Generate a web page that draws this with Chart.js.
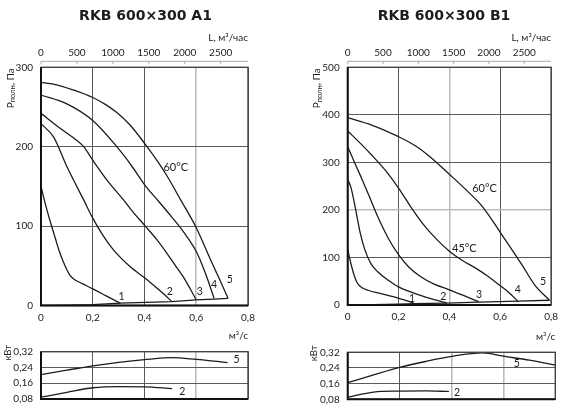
<!DOCTYPE html>
<html lang="ru">
<head>
<meta charset="UTF-8">
<title>RKB 600×300 A1 / B1</title>
<script src="https://cdn.jsdelivr.net/npm/chart.js@4.4.1/dist/chart.umd.min.js"></script>
<style>
  html, body { margin: 0; padding: 0; background: #fff; }
  #wrap { position: relative; width: 564px; height: 414px; }
  #wrap canvas { position: absolute; left: 0; top: 0; }
</style>
</head>
<body>
<div id="wrap">
  <canvas id="mainA" width="564" height="414"></canvas>
  <canvas id="powerA" width="564" height="414"></canvas>
  <canvas id="mainB" width="564" height="414"></canvas>
  <canvas id="powerB" width="564" height="414"></canvas>
</div>
<script>
// ---- RKB 600x300 A1 : flow Q (m3/s) vs total pressure P (Pa) ----
const a1Q1 = [0, 0.012, 0.025, 0.04, 0.055, 0.07, 0.085, 0.1, 0.113, 0.13, 0.16, 0.2, 0.25, 0.306];
const a1P1 = [150, 134, 118, 101, 85, 69, 56, 45, 37.5, 32.5, 27.5, 21, 12.5, 3];
const a1Q2 = [0, 0.049, 0.1, 0.135, 0.165, 0.2, 0.242, 0.28, 0.344, 0.404, 0.455, 0.48, 0.505];
const a1P2 = [229, 212, 175, 152, 133, 110, 87, 70, 49, 34, 20, 13, 5];
const a1Q3 = [0, 0.075, 0.13, 0.165, 0.2, 0.255, 0.319, 0.36, 0.403, 0.45, 0.486, 0.52, 0.55, 0.575, 0.6];
const a1P3 = [242, 223, 210, 200, 183, 158, 133, 116, 100, 82, 66, 50, 36, 22, 7];
const a1Q4 = [0, 0.1, 0.2, 0.293, 0.35, 0.403, 0.455, 0.504, 0.55, 0.6, 0.635, 0.669];
const a1P4 = [265, 254, 233, 200, 176, 151, 131, 112, 93, 68, 41, 9];
const a1Q5 = [0, 0.06, 0.12, 0.2, 0.25, 0.293, 0.345, 0.403, 0.454, 0.493, 0.538, 0.6, 0.659, 0.69, 0.723];
const a1P5 = [281, 278, 272, 262, 253, 243, 227, 203, 180, 160, 134, 98, 55, 33, 9];
const a1SysQ = [0, 0.1, 0.2, 0.306, 0.404, 0.505, 0.6, 0.669, 0.723];
const a1SysP = [0, 0.3, 1.2, 3, 4, 5, 7, 8, 9];
const a1Labels = ['1', '2', '3', '4', '5', '60°C'];
const a1LabelQ = [0.311, 0.498, 0.614, 0.669, 0.73, 0.521];
const a1LabelP = [11, 17, 17, 26, 32, 174];
// power N (kW)
const a1PowQ5 = [0, 0.1, 0.2, 0.3, 0.4, 0.51, 0.6, 0.721];
const a1PowN5 = [0.204, 0.226, 0.248, 0.266, 0.28, 0.29, 0.281, 0.265];
const a1PowQ2 = [0, 0.1, 0.2, 0.3, 0.4, 0.507];
const a1PowN2 = [0.089, 0.114, 0.137, 0.143, 0.142, 0.133];
const a1PowLabels = ['5', '2'];
const a1PowLabelQ = [0.756, 0.546];
const a1PowLabelN = [0.278, 0.119];

// ---- RKB 600x300 B1 ----
const b1Q1 = [0, 0.007, 0.015, 0.025, 0.035, 0.05, 0.08, 0.13, 0.183, 0.26];
const b1P1 = [117, 100, 82, 63, 49, 39, 31, 24, 17, 4];
const b1Q2 = [0, 0.013, 0.033, 0.05, 0.067, 0.09, 0.118, 0.16, 0.2, 0.25, 0.298, 0.39];
const b1P2 = [264, 247, 196, 150, 117, 88, 70, 52, 38, 27, 18, 4];
const b1Q3 = [0, 0.03, 0.06, 0.09, 0.118, 0.16, 0.2, 0.24, 0.286, 0.34, 0.4, 0.46, 0.515];
const b1P3 = [333, 296, 260, 222, 186, 140, 106, 80, 60, 44, 32, 19, 7];
const b1Q4 = [0, 0.05, 0.097, 0.15, 0.2, 0.25, 0.3, 0.35, 0.4, 0.45, 0.505, 0.55, 0.594, 0.635, 0.671];
const b1P4 = [366, 340, 314, 282, 246, 205, 168, 138, 113, 94, 77, 61, 43, 26, 7];
const b1Q5 = [0, 0.097, 0.2, 0.266, 0.328, 0.4, 0.47, 0.53, 0.6, 0.685, 0.736, 0.794];
const b1P5 = [394, 378, 354, 335, 310, 275, 240, 207, 153, 85, 42, 10];
const b1SysQ = [0, 0.1, 0.2, 0.26, 0.39, 0.515, 0.671, 0.794];
const b1SysP = [0, 0.5, 2, 3, 4, 6, 8, 10];
const b1Labels = ['1', '2', '3', '4', '5', '60°C', '45°C'];
const b1LabelQ = [0.253, 0.376, 0.517, 0.669, 0.768, 0.538, 0.459];
const b1LabelP = [14, 17.5, 21, 32, 49, 246, 119];
const b1PowQ5 = [0, 0.1, 0.2, 0.3, 0.4, 0.52, 0.6, 0.7, 0.8];
const b1PowN5 = [0.165, 0.205, 0.243, 0.273, 0.299, 0.317, 0.30, 0.28, 0.255];
const b1PowQ2 = [0, 0.05, 0.1, 0.2, 0.3, 0.39];
const b1PowN2 = [0.09, 0.105, 0.117, 0.122, 0.123, 0.12];
const b1PowLabels = ['5', '2'];
const b1PowLabelQ = [0.652, 0.421];
const b1PowLabelN = [0.261, 0.114];

const flowTicks = [0, 0.2, 0.4, 0.6, 0.8];
const litersTicks = [0, 500, 1000, 1500, 2000, 2500];
const powerTicks = [0.08, 0.16, 0.24, 0.32];

const FONT = 'Lato, "Liberation Sans", sans-serif';
const INK = '#1c1c1c';

function pts(xs, ys) {
  return xs.map((x, i) => ({ x: x, y: ys[i] }));
}

function comma(v, digits) {
  return v === 0 ? '0' : v.toFixed(digits).replace('.', ',');
}

function isGrey(list, v) {
  return list.some(g => Math.abs(g - v) < 1e-6);
}

function line(data, smooth) {
  return {
    data: data, xAxisID: 'x', yAxisID: 'y',
    borderColor: INK, borderWidth: 1.3, pointRadius: 0, fill: false,
    cubicInterpolationMode: smooth ? 'monotone' : 'default', tension: 0
  };
}

// rotated axis caption, parts = [{text, size, dy}]
function drawRotated(ctx, cx, cy, parts) {
  ctx.save();
  ctx.translate(cx, cy);
  ctx.rotate(-Math.PI / 2);
  let total = 0;
  parts.forEach(p => {
    ctx.font = p.size + 'px ' + FONT;
    p.w = ctx.measureText(p.text).width;
    total += p.w;
  });
  let x = -total / 2;
  ctx.textAlign = 'left';
  ctx.textBaseline = 'alphabetic';
  parts.forEach(p => {
    ctx.font = p.size + 'px ' + FONT;
    ctx.fillText(p.text, x, 3.5 + (p.dy || 0));
    x += p.w;
  });
  ctx.restore();
}

function frame(ctx, a) {
  ctx.strokeStyle = '#444';
  ctx.lineWidth = 1.4;
  ctx.strokeRect(a.left, a.top, a.right - a.left, a.bottom - a.top);
  ctx.strokeStyle = '#111';
  ctx.lineWidth = 2;
  ctx.beginPath();
  ctx.moveTo(a.left, a.top);
  ctx.lineTo(a.left, a.bottom);
  ctx.lineTo(a.right, a.bottom);
  ctx.stroke();
}

function mainDecor(p) {
  return {
    id: 'mainDecor',
    afterDraw(chart) {
      const ctx = chart.ctx, a = chart.chartArea;
      const sx = chart.scales.x, sy = chart.scales.y, sl = chart.scales.xL;
      ctx.save();
      frame(ctx, a);
      // top L axis line with small ticks
      const ly = a.top - 6;
      ctx.strokeStyle = '#a8a8a8';
      ctx.lineWidth = 1;
      ctx.beginPath();
      ctx.moveTo(a.left, ly);
      ctx.lineTo(a.right, ly);
      sl.ticks.forEach(t => {
        const px = sl.getPixelForValue(t.value);
        ctx.moveTo(px, ly);
        ctx.lineTo(px, ly + 3);
      });
      ctx.stroke();

      ctx.fillStyle = INK;
      // title
      ctx.font = 'bold 14px "DejaVu Sans", sans-serif';
      ctx.textAlign = 'center';
      ctx.textBaseline = 'middle';
      ctx.fillText(p.title, p.titleX, 16);
      // L, m3/h
      ctx.font = '10px ' + FONT;
      ctx.textAlign = 'right';
      ctx.fillText('L, м³/час', a.right, 38);
      // curve labels
      p.labels.forEach((txt, i) => {
        ctx.font = (txt.length > 1 ? 11 : 10.5) + 'px ' + FONT;
        ctx.textAlign = 'center';
        ctx.fillText(txt, sx.getPixelForValue(p.labelQ[i]), sy.getPixelForValue(p.labelP[i]));
      });
      // P axis caption
      drawRotated(ctx, a.left - 31, a.top + 21, [
        { text: 'P', size: 10 },
        { text: 'полн', size: 7.5, dy: 1.5 },
        { text: ', Па', size: 10 }
      ]);
      ctx.restore();
    }
  };
}

function powerDecor(p) {
  return {
    id: 'powerDecor',
    afterDraw(chart) {
      const ctx = chart.ctx, a = chart.chartArea;
      const sx = chart.scales.x, sy = chart.scales.y;
      ctx.save();
      frame(ctx, a);
      ctx.fillStyle = INK;
      ctx.font = '10px ' + FONT;
      ctx.textAlign = 'right';
      ctx.textBaseline = 'middle';
      ctx.fillText('м³/с', a.right, a.top - 16);
      p.labels.forEach((txt, i) => {
        ctx.textAlign = 'center';
        ctx.font = '10.5px ' + FONT;
        ctx.fillText(txt, sx.getPixelForValue(p.labelQ[i]), sy.getPixelForValue(p.labelN[i]));
      });
      drawRotated(ctx, a.left - 34, a.top + 1, [{ text: 'кВт', size: 9.5 }]);
      ctx.restore();
    }
  };
}

const tickFont = { family: FONT, size: 10 };

function gridStyle(grey) {
  return {
    drawTicks: false,
    lineWidth: c => isGrey(grey, c.tick.value) ? 1.6 : 1,
    color: c => isGrey(grey, c.tick.value) ? '#bdbdbd' : '#5a5a5a'
  };
}

function mainChart(id, p) {
  const datasets = p.q.map((q, i) => line(pts(q, p.pr[i]), true));
  datasets.push(line(pts(p.sysQ, p.sysP), false));
  return new Chart(document.getElementById(id), {
    type: 'line',
    data: { datasets: datasets },
    options: {
      responsive: false,
      animation: false,
      events: [],
      layout: { padding: { left: p.left - 30, top: p.top - 20, right: 564 - p.right, bottom: 414 - p.bottom - 20 } },
      plugins: { legend: { display: false }, tooltip: { enabled: false } },
      scales: {
        x: {
          type: 'linear', position: 'bottom', min: 0, max: 0.8,
          afterFit: s => { s.height = 20; },
          afterBuildTicks: s => { s.ticks = flowTicks.map(v => ({ value: v })); },
          border: { display: false },
          grid: gridStyle(p.greyX),
          ticks: { font: tickFont, color: INK, padding: 6, maxRotation: 0, callback: v => comma(v, 1) }
        },
        xL: {
          type: 'linear', position: 'top', min: 0, max: 2880,
          afterFit: s => { s.height = 20; },
          afterBuildTicks: s => { s.ticks = litersTicks.map(v => ({ value: v })); },
          border: { display: false },
          grid: { display: false, drawTicks: false },
          ticks: { font: tickFont, color: INK, padding: 9, maxRotation: 0, autoSkip: false, callback: v => String(v) }
        },
        y: {
          type: 'linear', min: 0, max: p.yMax,
          afterFit: s => { s.width = 30; },
          border: { display: false },
          grid: gridStyle(p.greyY),
          ticks: { font: tickFont, color: INK, padding: 8, stepSize: 100 }
        }
      }
    },
    plugins: [mainDecor(p)]
  });
}

function powerChart(id, p) {
  const datasets = [
    line(pts(p.q5, p.n5), true),
    line(pts(p.q2, p.n2), true)
  ];
  return new Chart(document.getElementById(id), {
    type: 'line',
    data: { datasets: datasets },
    options: {
      responsive: false,
      animation: false,
      events: [],
      layout: { padding: { left: p.left - 30, top: p.top, right: 564 - p.right, bottom: 414 - p.bottom } },
      plugins: { legend: { display: false }, tooltip: { enabled: false } },
      scales: {
        x: {
          type: 'linear', min: 0, max: 0.8,
          afterFit: s => { s.height = 0; },
          afterBuildTicks: s => { s.ticks = flowTicks.map(v => ({ value: v })); },
          border: { display: false },
          grid: gridStyle(p.greyX),
          ticks: { display: false }
        },
        y: {
          type: 'linear', min: 0.08, max: 0.32,
          afterFit: s => { s.width = 30; },
          afterBuildTicks: s => { s.ticks = powerTicks.map(v => ({ value: v })); },
          border: { display: false },
          grid: gridStyle([]),
          ticks: { font: tickFont, color: INK, padding: 8, callback: v => comma(v, 2) }
        }
      }
    },
    plugins: [powerDecor(p)]
  });
}

mainChart('mainA', {
  title: 'RKB 600×300 A1', titleX: 145.5,
  left: 41, right: 248, top: 67.3, bottom: 305.5, yMax: 300,
  q: [a1Q1, a1Q2, a1Q3, a1Q4, a1Q5], pr: [a1P1, a1P2, a1P3, a1P4, a1P5],
  sysQ: a1SysQ, sysP: a1SysP,
  labels: a1Labels, labelQ: a1LabelQ, labelP: a1LabelP,
  greyX: [0.6], greyY: []
});
powerChart('powerA', {
  left: 41, right: 248, top: 351.7, bottom: 399,
  q5: a1PowQ5, n5: a1PowN5, q2: a1PowQ2, n2: a1PowN2,
  labels: a1PowLabels, labelQ: a1PowLabelQ, labelN: a1PowLabelN,
  greyX: [0.6]
});
mainChart('mainB', {
  title: 'RKB 600×300 B1', titleX: 444,
  left: 347.7, right: 555, top: 67.3, bottom: 305, yMax: 500,
  q: [b1Q1, b1Q2, b1Q3, b1Q4, b1Q5], pr: [b1P1, b1P2, b1P3, b1P4, b1P5],
  sysQ: b1SysQ, sysP: b1SysP,
  labels: b1Labels, labelQ: b1LabelQ, labelP: b1LabelP,
  greyX: [0.4], greyY: [200]
});
powerChart('powerB', {
  left: 347.7, right: 555.3, top: 352.3, bottom: 399.3,
  q5: b1PowQ5, n5: b1PowN5, q2: b1PowQ2, n2: b1PowN2,
  labels: b1PowLabels, labelQ: b1PowLabelQ, labelN: b1PowLabelN,
  greyX: [0.4, 0.6]
});
</script>
</body>
</html>
